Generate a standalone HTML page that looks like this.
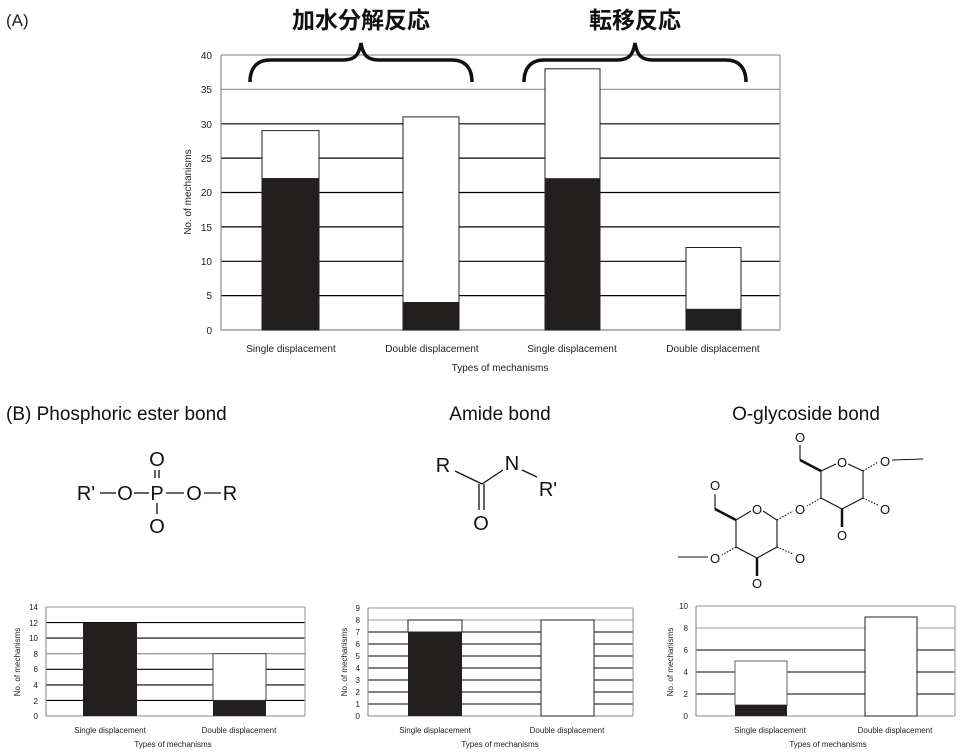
<!DOCTYPE html>
<html><head><meta charset="utf-8"><style>
html,body{margin:0;padding:0;background:#fff}
svg{display:block}
text{font-family:"Liberation Sans","Noto Sans CJK JP",sans-serif}
.t{font-size:10px;fill:#222}
.s{font-size:8px;fill:#222}
.m{font-size:20px;fill:#111}
</style></head><body>
<svg width="962" height="756" viewBox="0 0 962 756" xmlns="http://www.w3.org/2000/svg">
<text x="6" y="26" font-size="17" fill="#222">(A)</text>
<text x="361" y="28" text-anchor="middle" font-size="23" font-weight="bold" font-family="'Noto Sans CJK JP',sans-serif" fill="#111">加水分解反応</text>
<text x="635" y="28" text-anchor="middle" font-size="23" font-weight="bold" font-family="'Noto Sans CJK JP',sans-serif" fill="#111">転移反応</text>

<!-- top chart -->
<g stroke-width="1.2">
<line x1="221" y1="55" x2="780" y2="55" stroke="#999"/>
<line x1="221" y1="89.4" x2="780" y2="89.4" stroke="#999"/>
<line x1="221" y1="123.8" x2="780" y2="123.8" stroke="#000"/>
<line x1="221" y1="158.1" x2="780" y2="158.1" stroke="#000"/>
<line x1="221" y1="192.5" x2="780" y2="192.5" stroke="#000"/>
<line x1="221" y1="226.9" x2="780" y2="226.9" stroke="#000"/>
<line x1="221" y1="261.3" x2="780" y2="261.3" stroke="#000"/>
<line x1="221" y1="295.6" x2="780" y2="295.6" stroke="#000"/>
<line x1="221" y1="330" x2="780" y2="330" stroke="#888"/>
<line x1="221" y1="55" x2="221" y2="330" stroke="#888"/>
<line x1="780" y1="55" x2="780" y2="330" stroke="#999"/>
</g>
<g stroke="#222" stroke-width="1">
<rect x="262" y="130.6" width="57" height="48" fill="#fff"/>
<rect x="262" y="178.8" width="57" height="151.2" fill="#231f1e"/>
<rect x="403" y="116.9" width="56" height="185.6" fill="#fff"/>
<rect x="403" y="302.5" width="56" height="27.5" fill="#231f1e"/>
<rect x="545" y="68.8" width="55" height="110" fill="#fff"/>
<rect x="545" y="178.8" width="55" height="151.2" fill="#231f1e"/>
<rect x="686" y="247.5" width="55" height="61.9" fill="#fff"/>
<rect x="686" y="309.4" width="55" height="20.6" fill="#231f1e"/>
</g>
<g class="t" text-anchor="end">
<text x="212" y="59">40</text><text x="212" y="93">35</text><text x="212" y="128">30</text><text x="212" y="162">25</text>
<text x="212" y="196">20</text><text x="212" y="231">15</text><text x="212" y="265">10</text><text x="212" y="299">5</text><text x="212" y="334">0</text>
</g>
<text class="t" transform="translate(191,192) rotate(-90)" text-anchor="middle">No. of mechanisms</text>
<g class="t" text-anchor="middle">
<text x="291" y="352">Single displacement</text><text x="432" y="352">Double displacement</text>
<text x="572" y="352">Single displacement</text><text x="713" y="352">Double displacement</text>
<text x="500" y="371">Types of mechanisms</text>
</g>
<g fill="none" stroke="#111" stroke-width="3.5">
<path d="M250,82 C250,68 257,60 270,60 L343,60 C355,60 359,55 361,43 C363,55 367,60 379,60 L452,60 C465,60 472,68 472,82"/>
<path d="M524,82 C524,68 531,60 544,60 L617,60 C629,60 633,55 635,43 C637,55 641,60 653,60 L726,60 C739,60 746,68 746,82"/>
</g>

<!-- B titles -->
<text x="6" y="420" font-size="19" fill="#111">(B) Phosphoric ester bond</text>
<text x="500" y="420" font-size="19" fill="#111" text-anchor="middle">Amide bond</text>
<text x="806" y="420" font-size="19" fill="#111" text-anchor="middle">O-glycoside bond</text>

<!-- phosphate -->
<g class="m" text-anchor="middle">
<text x="86" y="500">R'</text><text x="125" y="500">O</text><text x="157" y="500">P</text><text x="194" y="500">O</text><text x="230" y="500">R</text>
<text x="157" y="466">O</text><text x="157" y="533">O</text>
</g>
<g stroke="#111" stroke-width="1.3">
<line x1="100" y1="493" x2="116" y2="493"/><line x1="134" y1="493" x2="149" y2="493"/>
<line x1="166" y1="493" x2="184" y2="493"/><line x1="204" y1="493" x2="221" y2="493"/>
<line x1="155" y1="470" x2="155" y2="478"/><line x1="159" y1="470" x2="159" y2="478"/>
<line x1="157" y1="503" x2="157" y2="514"/>
</g>
<!-- amide -->
<g class="m" text-anchor="middle">
<text x="443" y="472">R</text><text x="512" y="470">N</text><text x="548" y="496">R'</text><text x="481" y="530">O</text>
</g>
<g stroke="#111" stroke-width="1.3">
<line x1="455" y1="471" x2="482" y2="484"/><line x1="482" y1="484" x2="503" y2="470"/>
<line x1="522" y1="470" x2="537" y2="477"/>
<line x1="479" y1="484" x2="479" y2="510"/><line x1="484" y1="484" x2="484" y2="510"/>
</g>

<!-- glycoside -->
<g font-size="13" fill="#111" text-anchor="middle">
<text x="842" y="467">O</text><text x="800" y="442">O</text><text x="885" y="466">O</text><text x="885" y="514">O</text>
<text x="842" y="540">O</text><text x="800" y="514">O</text>
<text x="757" y="514">O</text><text x="715" y="490">O</text><text x="715" y="563">O</text><text x="800" y="563">O</text><text x="757" y="588">O</text>
</g>
<g stroke="#111" stroke-width="1.1" fill="none">
<path d="M836,464 L821,471 L821,498 L842,509 L863,498 L863,471 L848,464"/>
<line x1="821" y1="471" x2="800" y2="460" stroke-width="2.5"/><line x1="800" y1="460" x2="800" y2="445"/>
<line x1="863" y1="471" x2="878" y2="462" stroke-dasharray="1.5,1.5"/><line x1="892" y1="460" x2="923" y2="459"/>
<line x1="863" y1="498" x2="878" y2="505" stroke-dasharray="1.5,1.5"/>
<line x1="842" y1="509" x2="842" y2="527" stroke-width="2.5"/>
<line x1="821" y1="498" x2="807" y2="506" stroke-dasharray="1.5,1.5"/>
<path d="M751,511 L736,520 L736,547 L757,558 L777,547 L777,520 L763,511"/>
<line x1="736" y1="520" x2="715" y2="509" stroke-width="2.5"/><line x1="715" y1="509" x2="715" y2="494"/>
<line x1="777" y1="520" x2="793" y2="511" stroke-dasharray="1.5,1.5"/>
<line x1="777" y1="547" x2="793" y2="554" stroke-dasharray="1.5,1.5"/>
<line x1="757" y1="558" x2="757" y2="576" stroke-width="2.5"/>
<line x1="736" y1="547" x2="722" y2="555" stroke-dasharray="1.5,1.5"/>
<line x1="708" y1="557" x2="678" y2="557"/>
</g>

<!-- bottom chart 1 -->
<g stroke-width="1.1">
<line x1="46" y1="607" x2="305" y2="607" stroke="#999"/>
<line x1="46" y1="622.6" x2="305" y2="622.6" stroke="#000"/>
<line x1="46" y1="638.1" x2="305" y2="638.1" stroke="#000"/>
<line x1="46" y1="653.7" x2="305" y2="653.7" stroke="#888"/>
<line x1="46" y1="669.3" x2="305" y2="669.3" stroke="#000"/>
<line x1="46" y1="684.9" x2="305" y2="684.9" stroke="#000"/>
<line x1="46" y1="700.4" x2="305" y2="700.4" stroke="#000"/>
<line x1="46" y1="716" x2="305" y2="716" stroke="#888"/>
<line x1="46" y1="607" x2="46" y2="716" stroke="#888"/><line x1="305" y1="607" x2="305" y2="716" stroke="#999"/>
</g>
<rect x="83" y="622.6" width="54" height="93.4" fill="#231f1e"/>
<rect x="213" y="653.7" width="53" height="46.7" fill="#fff" stroke="#444"/>
<rect x="213" y="700.4" width="53" height="15.6" fill="#231f1e"/>
<g class="s" text-anchor="end">
<text x="38" y="610">14</text><text x="38" y="626">12</text><text x="38" y="641">10</text><text x="38" y="657">8</text><text x="38" y="672">6</text><text x="38" y="688">4</text><text x="38" y="704">2</text><text x="38" y="719">0</text>
</g>
<text class="s" transform="translate(20,662) rotate(-90)" text-anchor="middle">No. of mechanisms</text>
<g class="s" text-anchor="middle"><text x="110" y="733">Single displacement</text><text x="239" y="733">Double displacement</text><text x="173" y="747">Types of mechanisms</text></g>

<!-- bottom chart 2 -->
<g stroke-width="1.1">
<line x1="368" y1="608" x2="633" y2="608" stroke="#999"/>
<line x1="368" y1="620" x2="633" y2="620" stroke="#999"/>
<line x1="368" y1="632" x2="633" y2="632" stroke="#000"/>
<line x1="368" y1="644" x2="633" y2="644" stroke="#000"/>
<line x1="368" y1="656" x2="633" y2="656" stroke="#000"/>
<line x1="368" y1="668" x2="633" y2="668" stroke="#000"/>
<line x1="368" y1="680" x2="633" y2="680" stroke="#000"/>
<line x1="368" y1="692" x2="633" y2="692" stroke="#000"/>
<line x1="368" y1="704" x2="633" y2="704" stroke="#000"/>
<line x1="368" y1="716" x2="633" y2="716" stroke="#888"/>
<line x1="368" y1="608" x2="368" y2="716" stroke="#888"/><line x1="633" y1="608" x2="633" y2="716" stroke="#999"/>
</g>
<rect x="408" y="620" width="54" height="12" fill="#fff" stroke="#222"/>
<rect x="408" y="632" width="54" height="84" fill="#231f1e"/>
<rect x="541" y="620" width="53" height="96" fill="#fff" stroke="#222"/>
<g class="s" text-anchor="end">
<text x="360" y="611">9</text><text x="360" y="623">8</text><text x="360" y="635">7</text><text x="360" y="647">6</text><text x="360" y="659">5</text><text x="360" y="671">4</text><text x="360" y="683">3</text><text x="360" y="695">2</text><text x="360" y="707">1</text><text x="360" y="719">0</text>
</g>
<text class="s" transform="translate(347,662) rotate(-90)" text-anchor="middle">No. of mechanisms</text>
<g class="s" text-anchor="middle"><text x="435" y="733">Single displacement</text><text x="567" y="733">Double displacement</text><text x="500" y="747">Types of mechanisms</text></g>

<!-- bottom chart 3 -->
<g stroke-width="1.1">
<line x1="696" y1="606" x2="955" y2="606" stroke="#999"/>
<line x1="696" y1="628" x2="955" y2="628" stroke="#999"/>
<line x1="696" y1="650" x2="955" y2="650" stroke="#000"/>
<line x1="696" y1="672" x2="955" y2="672" stroke="#000"/>
<line x1="696" y1="694" x2="955" y2="694" stroke="#000"/>
<line x1="696" y1="716" x2="955" y2="716" stroke="#888"/>
<line x1="696" y1="606" x2="696" y2="716" stroke="#888"/><line x1="955" y1="606" x2="955" y2="716" stroke="#999"/>
</g>
<rect x="735" y="661" width="52" height="44" fill="#fff" stroke="#666"/>
<rect x="735" y="705" width="52" height="11" fill="#231f1e"/>
<rect x="865" y="617" width="52" height="99" fill="#fff" stroke="#222"/>
<g class="s" text-anchor="end">
<text x="688" y="609">10</text><text x="688" y="631">8</text><text x="688" y="653">6</text><text x="688" y="675">4</text><text x="688" y="697">2</text><text x="688" y="719">0</text>
</g>
<text class="s" transform="translate(673,662) rotate(-90)" text-anchor="middle">No. of mechanisms</text>
<g class="s" text-anchor="middle"><text x="770" y="733">Single displacement</text><text x="895" y="733">Double displacement</text><text x="828" y="747">Types of mechanisms</text></g>
</svg>
</body></html>
